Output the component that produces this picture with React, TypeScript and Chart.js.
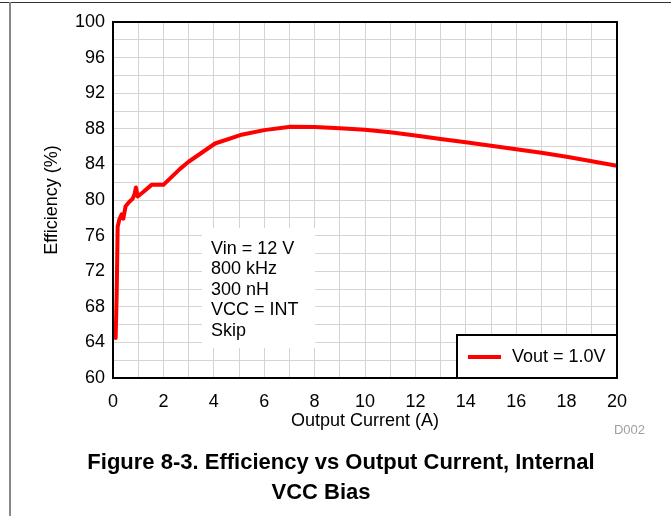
import React, { useEffect, useRef } from "react";
import { Chart, registerables } from "chart.js";

Chart.register(...registerables);

// ---- data ----
const currentA = [
  0.106, 0.146, 0.185, 0.25, 0.344, 0.41, 0.5, 0.65, 0.77, 0.85, 0.91, 0.98, 1.2, 1.53, 2.0,
  2.66, 3.0, 4.05, 5.05, 6.0, 7.04, 8.0, 9.0, 10.0, 11.0, 12.0, 13.0, 14.0, 15.0, 16.0, 17.0,
  18.0, 19.0, 20.0,
];
const efficiencyPct = [
  64.5, 69.5, 77.0, 77.8, 78.4, 77.9, 79.3, 79.8, 80.1, 80.6, 81.4, 80.4, 80.9, 81.7, 81.7,
  83.5, 84.3, 86.35, 87.3, 87.85, 88.24, 88.2, 88.06, 87.9, 87.6, 87.25, 86.85, 86.5, 86.1,
  85.7, 85.3, 84.85, 84.35, 83.85,
];
const seriesLabel = "Vout = 1.0V";
const xTickLabels = ["0", "2", "4", "6", "8", "10", "12", "14", "16", "18", "20"];
const yTickLabels = ["60", "64", "68", "72", "76", "80", "84", "88", "92", "96", "100"];
const noteLines = ["Vin = 12 V", "800 kHz", "300 nH", "VCC = INT", "Skip"];
const xTitle = "Output Current (A)";
const yTitle = "Efficiency (%)";
const captionLine1 = "Figure 8-3. Efficiency vs Output Current, Internal";
const captionLine2 = "VCC Bias";
const figureCode = "D002";

const FONT = "'Liberation Sans', Arial, Helvetica, sans-serif";

const decorPlugin = {
  id: "decor",
  beforeDatasetsDraw(chart: any) {
    const { ctx, chartArea: a } = chart;
    ctx.save();
    ctx.fillStyle = "#ffffff";
    ctx.fillRect(a.left + 89, a.top + 206, 113, 120);
    ctx.fillStyle = "#000000";
    ctx.font = `18px ${FONT}`;
    ctx.textBaseline = "middle";
    ctx.textAlign = "left";
    noteLines.forEach((t, i) => ctx.fillText(t, a.left + 98, a.top + 227 + i * 20.5));
    ctx.restore();
  },
  afterDraw(chart: any) {
    const { ctx, chartArea: a } = chart;
    ctx.save();
    // plot frame
    ctx.strokeStyle = "#000000";
    ctx.lineWidth = 2;
    ctx.strokeRect(a.left, a.top, a.right - a.left, a.bottom - a.top);
    // legend box
    const lw = 160, lh = 43;
    const lx = a.right - lw, ly = a.bottom - lh;
    ctx.fillStyle = "#ffffff";
    ctx.fillRect(lx, ly, lw, lh);
    ctx.strokeRect(lx, ly, lw, lh);
    const ds = chart.data.datasets[0];
    ctx.strokeStyle = ds.borderColor;
    ctx.lineWidth = 4;
    ctx.beginPath();
    ctx.moveTo(lx + 11, ly + 22);
    ctx.lineTo(lx + 44, ly + 22);
    ctx.stroke();
    ctx.fillStyle = "#000000";
    ctx.font = `18px ${FONT}`;
    ctx.textBaseline = "middle";
    ctx.textAlign = "left";
    ctx.fillText(ds.label, lx + 55, ly + 22);
    ctx.restore();
  },
};

export default function App() {
  const ref = useRef<HTMLCanvasElement>(null);
  useEffect(() => {
    if (!ref.current) return;
    const chart = new Chart(ref.current, {
      type: "line",
      data: {
        datasets: [
          {
            label: seriesLabel,
            data: currentA.map((x, i) => ({ x, y: efficiencyPct[i] })),
            borderColor: "#ff0000",
            backgroundColor: "#ff0000",
            borderWidth: 4,
            pointRadius: 0,
            tension: 0,
            borderJoinStyle: "round",
            borderCapStyle: "round",
          },
        ],
      },
      options: {
        animation: false,
        responsive: false,
        devicePixelRatio: 1,
        layout: { padding: { left: 0, top: 22, right: 54, bottom: 78 } },
        plugins: { legend: { display: false }, tooltip: { enabled: false } },
        scales: {
          x: {
            type: "linear",
            min: 0,
            max: 20,
            afterFit: (s: any) => {
              s.height = 60;
            },
            ticks: {
              stepSize: 1,
              autoSkip: false,
              maxRotation: 0,
              padding: 13,
              color: "#000",
              font: { family: FONT, size: 18 },
              callback: (v: any) => {
                const s = String(v);
                return xTickLabels.includes(s) ? s : "";
              },
            },
            grid: { color: "#d4d4d4", lineWidth: 1, drawTicks: false },
            border: { display: false },
            title: {
              display: true,
              text: xTitle,
              color: "#000",
              font: { family: FONT, size: 18 },
              padding: { top: 0, bottom: 6 },
            },
          },
          y: {
            type: "linear",
            min: 60,
            max: 100,
            afterFit: (s: any) => {
              s.width = 113;
            },
            ticks: {
              stepSize: 2,
              autoSkip: false,
              padding: 8,
              color: "#000",
              font: { family: FONT, size: 18 },
              callback: (v: any) => {
                const s = String(v);
                return yTickLabels.includes(s) ? s : "";
              },
            },
            grid: { color: "#d4d4d4", lineWidth: 1, drawTicks: false },
            border: { display: false },
            title: {
              display: true,
              text: yTitle,
              color: "#000",
              font: { family: FONT, size: 18 },
              padding: { top: 41, bottom: 0 },
            },
          },
        },
      },
      plugins: [decorPlugin],
    } as any);
    return () => chart.destroy();
  }, []);

  return (
    <div
      style={{
        position: "absolute",
        left: 0,
        top: 0,
        width: 671,
        height: 516,
        background: "#ffffff",
        overflow: "hidden",
        fontFamily: FONT,
      }}
    >
      <div style={{ position: "absolute", left: 0, top: 2, width: 671, height: 1, background: "#333" }} />
      <div style={{ position: "absolute", left: 9, top: 2, width: 2, height: 514, background: "#888" }} />
      <canvas ref={ref} width={671} height={516} style={{ position: "absolute", left: 0, top: 0, display: "block" }} />
      <div
        style={{
          position: "absolute",
          left: 0,
          top: 422,
          width: 645,
          textAlign: "right",
          fontSize: 13,
          lineHeight: "16px",
          color: "#a0a0a0",
        }}
      >
        {figureCode}
      </div>
      <div
        style={{
          position: "absolute",
          left: 0,
          top: 449,
          width: 682,
          textAlign: "center",
          fontSize: 22,
          fontWeight: "bold",
          lineHeight: "26px",
          whiteSpace: "nowrap",
          color: "#000",
        }}
      >
        {captionLine1}
      </div>
      <div
        style={{
          position: "absolute",
          left: 0,
          top: 479,
          width: 642,
          textAlign: "center",
          fontSize: 22,
          fontWeight: "bold",
          lineHeight: "26px",
          whiteSpace: "nowrap",
          color: "#000",
        }}
      >
        {captionLine2}
      </div>
    </div>
  );
}
